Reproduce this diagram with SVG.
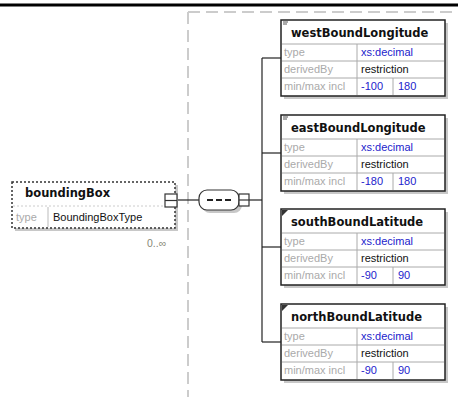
<svg xmlns="http://www.w3.org/2000/svg" width="458" height="397" viewBox="0 0 458 397">
<style>
.hdr{font-family:"DejaVu Sans",Verdana,sans-serif;font-weight:bold;font-size:11.5px;fill:#111}
.lbl{font-family:"Liberation Sans",Arial,sans-serif;font-size:11px;fill:#aaa}
.val{font-family:"Liberation Sans",Arial,sans-serif;font-size:11px;fill:#22c}
.blk{font-family:"Liberation Sans",Arial,sans-serif;font-size:11px;fill:#111}
.box{fill:#fff;stroke:#222;stroke-width:1.5}
.shadow{fill:#c8c8c8}
.row{fill:none;stroke:#aaa;stroke-width:1}
.conn{fill:none;stroke:#222;stroke-width:1.2}
</style>
<defs>
<g id="elem">
<rect class="shadow" x="3" y="3" width="164" height="76"/>
<rect class="box" x="0" y="0" width="164" height="76"/>
<line class="row" x1="1" y1="24" x2="163" y2="24"/>
<line class="row" x1="1" y1="41" x2="163" y2="41"/>
<line class="row" x1="1" y1="58" x2="163" y2="58"/>
<line class="row" x1="76" y1="24" x2="76" y2="75"/>
<line class="row" x1="112" y1="58" x2="112" y2="75"/>
<text class="lbl" x="3" y="36">type</text>
<text class="lbl" x="3" y="53">derivedBy</text>
<text class="lbl" x="3" y="70">min/max incl</text>
<text class="blk" x="80" y="53">restriction</text>
<text class="val" x="80" y="36">xs:decimal</text>
</g>
</defs>
<rect width="458" height="397" fill="#fff"/>
<line x1="0" y1="5" x2="458" y2="5" stroke="#000" stroke-width="3"/>
<g id="frame" fill="none" stroke="#ccc" stroke-width="2" stroke-dasharray="12,6">
<line x1="188" y1="12" x2="458" y2="12"/>
<line x1="188" y1="12" x2="188" y2="397"/>
</g>
<g id="connectors">
<line class="conn" x1="177" y1="200" x2="199" y2="200"/>
<line class="conn" x1="249" y1="200" x2="262" y2="200"/>
<line class="conn" x1="262" y1="58" x2="262" y2="342"/>
<line class="conn" x1="262" y1="58" x2="281" y2="58"/>
<line class="conn" x1="262" y1="153" x2="281" y2="153"/>
<line class="conn" x1="262" y1="247" x2="281" y2="247"/>
<line class="conn" x1="262" y1="342" x2="281" y2="342"/>
</g>
<g id="boundingBox">
<rect class="shadow" x="15" y="185" width="163" height="46"/>
<rect x="12" y="182" width="163" height="46" fill="#fff" stroke="#333" stroke-width="1.5" stroke-dasharray="2,2"/>
<line x1="13" y1="206" x2="174" y2="206" stroke="#ccc" stroke-dasharray="2,2"/>
<line x1="48" y1="207" x2="48" y2="227" stroke="#bbb"/>
<text class="hdr" x="25" y="197">boundingBox</text>
<text class="lbl" x="16" y="221">type</text>
<text class="blk" x="53" y="221" font-size="12">BoundingBoxType</text>
<rect x="165" y="194" width="12" height="13" fill="#fff" stroke="#333" stroke-width="1.2"/>
<line x1="165" y1="200.5" x2="177" y2="200.5" stroke="#333" stroke-width="1.2"/>
<text x="147" y="247" font-family="Liberation Sans,Arial,sans-serif" font-size="10.5" fill="#887">0..∞</text>
</g>
<g id="sequence">
<rect x="202" y="193" width="40" height="20" rx="8" fill="#c8c8c8"/>
<rect x="199" y="190" width="40" height="20" rx="8" fill="#fff" stroke="#333" stroke-width="1.2"/>
<line x1="207" y1="200" x2="231" y2="200" stroke="#222" stroke-width="2" stroke-dasharray="6,3"/>
<rect x="239" y="194" width="10" height="12" fill="#fff" stroke="#333" stroke-width="1.2"/>
<line x1="239" y1="200" x2="249" y2="200" stroke="#333" stroke-width="1.2"/>
</g>
<g id="westBoundLongitude" transform="translate(281,20)">
<use href="#elem"/>
<path d="M2 2h5M2 4h4" stroke="#555" stroke-width="1"/>
<text class="hdr" x="10" y="17">westBoundLongitude</text>
<text class="val" x="80" y="70">-100</text>
<text class="val" x="117" y="70">180</text>
</g>
<g id="eastBoundLongitude" transform="translate(281,115)">
<use href="#elem"/>
<path d="M2 2h5M2 4h4" stroke="#555" stroke-width="1"/>
<text class="hdr" x="10" y="17">eastBoundLongitude</text>
<text class="val" x="80" y="70">-180</text>
<text class="val" x="117" y="70">180</text>
</g>
<g id="southBoundLatitude" transform="translate(281,209)">
<use href="#elem"/>
<path d="M1 1h6l-6 6z" fill="#333"/>
<text class="hdr" x="10" y="17">southBoundLatitude</text>
<text class="val" x="80" y="70">-90</text>
<text class="val" x="117" y="70">90</text>
</g>
<g id="northBoundLatitude" transform="translate(281,304)">
<use href="#elem"/>
<path d="M1 1h6l-6 6z" fill="#333"/>
<text class="hdr" x="10" y="17">northBoundLatitude</text>
<text class="val" x="80" y="70">-90</text>
<text class="val" x="117" y="70">90</text>
</g>
</svg>
